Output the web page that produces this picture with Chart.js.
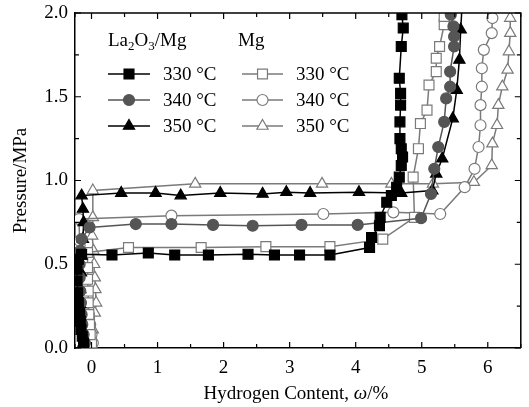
<!DOCTYPE html>
<html>
<head>
<meta charset="utf-8">
<script src="https://cdn.jsdelivr.net/npm/chart.js@4/dist/chart.umd.min.js"></script>
<style>
  html, body { margin:0; padding:0; background:#fff; }
  canvas { display:block; }
</style>
</head>
<body>
<canvas id="pct" width="529" height="407"></canvas>
<script>
// La2O3/Mg composite
const la330X = [-0.12,-0.14,-0.16,-0.17,-0.18,-0.2,-0.21,-0.22,-0.22,-0.2,-0.15,0.31,0.86,1.26,1.77,2.37,2.77,3.15,3.61,4.21,4.24,4.36,4.37,4.47,4.54,4.62,4.66,4.69,4.71,4.69,4.67,4.67,4.68,4.68,4.66,4.69,4.72,4.7];
const la330Y = [0.03,0.07,0.11,0.16,0.21,0.27,0.33,0.4,0.47,0.53,0.56,0.555,0.567,0.555,0.555,0.56,0.555,0.555,0.555,0.6,0.66,0.73,0.78,0.87,0.91,0.96,1.02,1.09,1.14,1.19,1.25,1.35,1.45,1.52,1.61,1.8,1.91,1.99];
const la340X = [-0.1,-0.12,-0.14,-0.15,-0.16,-0.17,-0.18,-0.18,-0.17,-0.15,-0.03,0.67,1.21,1.84,2.44,3.18,4.03,4.99,5.14,5.19,5.25,5.34,5.37,5.43,5.43,5.49,5.49,5.48,5.44];
const la340Y = [0.03,0.08,0.14,0.2,0.27,0.34,0.42,0.5,0.58,0.65,0.72,0.74,0.74,0.735,0.73,0.735,0.735,0.775,0.92,1.07,1.2,1.35,1.49,1.56,1.65,1.8,1.86,1.92,1.99];
const la350X = [-0.12,-0.14,-0.16,-0.17,-0.17,-0.16,-0.15,-0.13,-0.12,-0.13,-0.15,0.45,0.97,1.35,1.95,2.59,2.95,3.31,4.05,4.69,5.16,5.22,5.31,5.47,5.53,5.57,5.59,5.61];
const la350Y = [0.03,0.1,0.18,0.26,0.35,0.45,0.55,0.65,0.75,0.83,0.91,0.925,0.925,0.91,0.925,0.92,0.93,0.925,0.93,0.925,0.94,1.04,1.13,1.37,1.54,1.72,1.9,2.04];
// pure Mg
const mg330X = [0.0,-0.02,-0.03,-0.04,-0.05,-0.05,-0.06,-0.06,-0.06,0.56,1.66,2.64,3.61,4.41,4.89,4.87,4.95,4.98,5.08,5.11,5.22,5.22,5.27,5.34,5.34];
const mg330Y = [0.03,0.08,0.14,0.2,0.27,0.34,0.41,0.48,0.57,0.6,0.6,0.605,0.605,0.65,0.78,1.02,1.19,1.34,1.42,1.57,1.65,1.73,1.8,1.93,1.98];
const mg340X = [0.02,0.0,-0.02,-0.04,-0.06,-0.1,-0.14,-0.18,-0.18,-0.19,1.21,3.51,4.57,5.28,5.65,5.8,5.86,5.89,5.89,5.91,5.91,5.94,6.06,6.07];
const mg340Y = [0.03,0.08,0.14,0.2,0.3,0.38,0.48,0.61,0.64,0.77,0.79,0.8,0.81,0.8,0.96,1.07,1.2,1.33,1.45,1.56,1.67,1.78,1.88,1.97];
const mg350X = [0.0,0.02,0.05,0.07,0.06,0.05,0.04,0.03,0.01,0.02,0.02,1.57,3.49,4.54,5.17,5.79,6.06,6.07,6.14,6.16,6.22,6.3,6.32,6.34,6.34];
const mg350Y = [0.02,0.11,0.21,0.27,0.35,0.42,0.5,0.58,0.67,0.78,0.94,0.98,0.98,0.98,0.98,0.99,1.09,1.22,1.33,1.45,1.56,1.66,1.77,1.88,1.97];

const tempLabels = ["330 °C", "340 °C", "350 °C"];
const xTicks = [0, 1, 2, 3, 4, 5, 6];
const yTicks = [0, 0.5, 1.0, 1.5, 2.0];
const xMinor = [-0.25,0.5,1.5,2.5,3.5,4.5,5.5,6.5];
const yMinor = [0.25,0.75,1.25,1.75];

const FONT = "'Liberation Serif', 'Times New Roman', serif";
const pts = (xs, ys) => xs.map((x, i) => ({ x, y: ys[i] }));

function ds(xs, ys, style, line, fill, r) {
  return { data:pts(xs, ys), borderColor:line, borderWidth:1.5, showLine:true, tension:0,
    pointStyle:style, pointRadius:r, pointBackgroundColor:fill, pointBorderColor:line,
    pointBorderWidth:1.2, pointHoverRadius:r };
}

const datasets = [
  ds(la330X, la330Y, "rect", "#000", "#000", 7),
  ds(la340X, la340Y, "circle", "#555", "#555", 5.5),
  ds(la350X, la350Y, "triangle", "#000", "#000", 6.5),
  ds(mg330X, mg330Y, "rect", "#7a7a7a", "#fff", 7),
  ds(mg340X, mg340Y, "circle", "#7a7a7a", "#fff", 5.5),
  ds(mg350X, mg350Y, "triangle", "#7a7a7a", "#fff", 6.5),
];

function marker(ctx, d, x, y) {
  Chart.helpers.drawPoint(ctx, { pointStyle:d.pointStyle, radius:d.pointRadius, borderWidth:d.pointBorderWidth, rotation:0 }, x, y);
}

const frame = {
  id:"frame",
  afterDraw(chart) {
    const { ctx, chartArea:a, scales:{ x, y } } = chart;
    ctx.save();
    ctx.strokeStyle = "#000"; ctx.lineWidth = 1.5;
    ctx.beginPath();
    ctx.moveTo(a.left, a.top); ctx.lineTo(a.right, a.top); ctx.lineTo(a.right, a.bottom);
    ctx.stroke();
    // inward ticks on all four sides
    ctx.lineWidth = 1.2;
    const tx = (v, len) => { const p = x.getPixelForValue(v);
      ctx.moveTo(p, a.bottom); ctx.lineTo(p, a.bottom - len);
      ctx.moveTo(p, a.top); ctx.lineTo(p, a.top + len); };
    const ty = (v, len) => { const p = y.getPixelForValue(v);
      ctx.moveTo(a.left, p); ctx.lineTo(a.left + len, p);
      ctx.moveTo(a.right, p); ctx.lineTo(a.right - len, p); };
    ctx.beginPath();
    xTicks.forEach(v => tx(v, 6)); xMinor.forEach(v => tx(v, 4));
    yTicks.forEach(v => ty(v, 6)); yMinor.forEach(v => ty(v, 4));
    ctx.stroke();

    // axis titles
    ctx.fillStyle = "#000";
    ctx.textBaseline = "alphabetic";
    const cx = (a.left + a.right) / 2 - 2;
    const t1 = "Hydrogen Content, ", t2 = "ω", t3 = "/%";
    ctx.font = "19px " + FONT; const w1 = ctx.measureText(t1).width, w3 = ctx.measureText(t3).width;
    ctx.font = "italic 19px " + FONT; const w2 = ctx.measureText(t2).width;
    let sx = cx - (w1 + w2 + w3) / 2;
    ctx.font = "19px " + FONT; ctx.textAlign = "left";
    ctx.fillText(t1, sx, 399); sx += w1;
    ctx.font = "italic 19px " + FONT; ctx.fillText(t2, sx, 399); sx += w2;
    ctx.font = "19px " + FONT; ctx.fillText(t3, sx, 399);

    ctx.save();
    ctx.translate(26, (a.top + a.bottom) / 2);
    ctx.rotate(-Math.PI / 2);
    ctx.textAlign = "center";
    ctx.fillText("Pressure/MPa", 0, 0);
    ctx.restore();

    // legend headers
    ctx.textAlign = "left";
    let hx = 108;
    const part = (s, size, dy) => { ctx.font = size + "px " + FONT; ctx.fillText(s, hx, 46 + dy); hx += ctx.measureText(s).width; };
    part("La", 19, 0); part("2", 13, 4); part("O", 19, 0); part("3", 13, 4); part("/Mg", 19, 0);
    ctx.font = "19px " + FONT;
    ctx.fillText("Mg", 238, 46);

    // legend rows
    const rows = [74, 100, 126];
    const cols = [{ x0:108, x1:150, tx:163, off:0 }, { x0:242, x1:283, tx:296, off:3 }];
    cols.forEach(c => rows.forEach((ry, i) => {
      const d = datasets[c.off + i];
      ctx.strokeStyle = d.borderColor; ctx.lineWidth = 1.5;
      ctx.beginPath(); ctx.moveTo(c.x0, ry); ctx.lineTo(c.x1, ry); ctx.stroke();
      ctx.fillStyle = d.pointBackgroundColor; ctx.strokeStyle = d.pointBorderColor; ctx.lineWidth = d.pointBorderWidth;
      marker(ctx, d, (c.x0 + c.x1) / 2, ry);
      ctx.fillStyle = "#000"; ctx.font = "19px " + FONT; ctx.textBaseline = "middle";
      ctx.fillText(tempLabels[i], c.tx, ry + 1);
      ctx.textBaseline = "alphabetic";
    }));
    ctx.restore();
  }
};

new Chart(document.getElementById("pct"), {
  type:"scatter",
  data:{ datasets },
  options:{
    responsive:false, animation:false, events:[],
    layout:{ padding:{ top:13, right:3.5, left:0, bottom:0 } },
    plugins:{ legend:{ display:false }, tooltip:{ enabled:false } },
    scales:{
      x:{ type:"linear", min:-0.25, max:6.5,
        grid:{ drawOnChartArea:false, drawTicks:false }, border:{ color:"#000", width:1.5 },
        ticks:{ color:"#000", font:{ family:FONT, size:19 }, padding:9, maxRotation:0 },
        afterBuildTicks:s => { s.ticks = xTicks.map(v => ({ value:v })); },
        afterFit:s => { s.height = 59; s.paddingLeft = 0; s.paddingRight = 0; } },
      y:{ type:"linear", min:0, max:2,
        grid:{ drawOnChartArea:false, drawTicks:false }, border:{ color:"#000", width:1.5 },
        ticks:{ color:"#000", font:{ family:FONT, size:19 }, padding:7, callback:v => v.toFixed(1) },
        afterBuildTicks:s => { s.ticks = yTicks.map(v => ({ value:v })); },
        afterFit:s => { s.width = 75; s.paddingTop = 0; s.paddingBottom = 0; } },
    },
  },
  plugins:[frame],
});
</script>
</body>
</html>
